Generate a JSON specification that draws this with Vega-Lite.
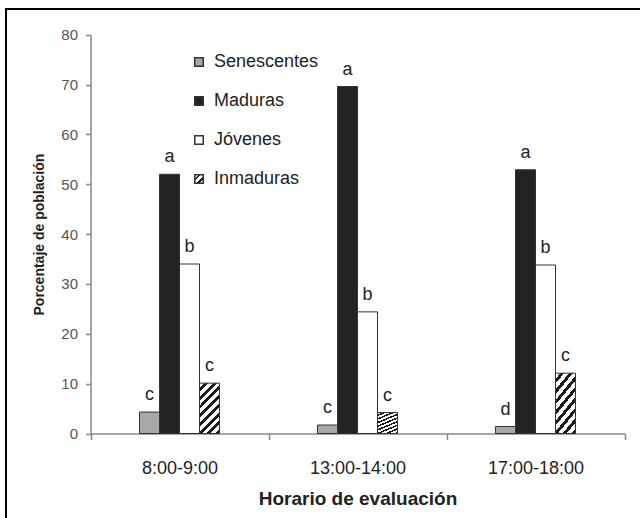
{
  "$schema": "https://vega.github.io/schema/vega-lite/v6.json",
  "width": 634,
  "height": 509,
  "autosize": {"type": "none"},
  "padding": {"left": 6, "top": 9, "right": 0, "bottom": 0},
  "background": "white",
  "config": {
    "view": {"stroke": "#000000", "strokeWidth": 2, "strokeDash": [634, 1143, 509]},
    "font": "Liberation Sans"
  },
  "data": {
    "values": [
      {"horario": "8:00-9:00", "tipo": "Senescentes", "porcentaje": 4.3, "letra": "c"},
      {"horario": "8:00-9:00", "tipo": "Maduras", "porcentaje": 52.0, "letra": "a"},
      {"horario": "8:00-9:00", "tipo": "Jóvenes", "porcentaje": 34.0, "letra": "b"},
      {"horario": "8:00-9:00", "tipo": "Inmaduras", "porcentaje": 10.1, "letra": "c"},
      {"horario": "13:00-14:00", "tipo": "Senescentes", "porcentaje": 1.7, "letra": "c"},
      {"horario": "13:00-14:00", "tipo": "Maduras", "porcentaje": 69.6, "letra": "a"},
      {"horario": "13:00-14:00", "tipo": "Jóvenes", "porcentaje": 24.4, "letra": "b"},
      {"horario": "13:00-14:00", "tipo": "Inmaduras", "porcentaje": 4.2, "letra": "c"},
      {"horario": "17:00-18:00", "tipo": "Senescentes", "porcentaje": 1.4, "letra": "d"},
      {"horario": "17:00-18:00", "tipo": "Maduras", "porcentaje": 52.9, "letra": "a"},
      {"horario": "17:00-18:00", "tipo": "Jóvenes", "porcentaje": 33.8, "letra": "b"},
      {"horario": "17:00-18:00", "tipo": "Inmaduras", "porcentaje": 12.1, "letra": "c"}
    ]
  },
  "encoding": {
    "x": {
      "field": "horario",
      "type": "nominal",
      "sort": ["8:00-9:00", "13:00-14:00", "17:00-18:00"],
      "scale": {"range": [84.5, 618.5], "paddingInner": 0, "paddingOuter": 0},
      "axis": {
        "title": "Horario de evaluación",
        "offset": -84.5,
        "domainColor": "#888888",
        "domainWidth": 1.5,
        "tickColor": "#888888",
        "tickWidth": 1.5,
        "tickBand": "extent",
        "tickSize": 6,
        "labelAngle": 0,
        "labelFontSize": 18,
        "labelColor": "#222222",
        "labelPadding": 20,
        "titleFontSize": 19,
        "titleFontWeight": "bold",
        "titleColor": "#222222",
        "titlePadding": 12
      }
    },
    "xOffset": {
      "field": "tipo",
      "type": "nominal",
      "sort": ["Senescentes", "Maduras", "Jóvenes", "Inmaduras"],
      "scale": {"range": [49, 129], "paddingInner": 0, "paddingOuter": 0}
    },
    "y": {
      "field": "porcentaje",
      "type": "quantitative",
      "scale": {"domain": [0, 80], "range": [424.5, 25.7], "nice": false},
      "axis": {
        "title": "Porcentaje de población",
        "offset": -84.5,
        "values": [0, 10, 20, 30, 40, 50, 60, 70, 80],
        "grid": false,
        "domainColor": "#888888",
        "domainWidth": 1.5,
        "tickColor": "#888888",
        "tickWidth": 1.5,
        "tickSize": 5,
        "labelFontSize": 15,
        "labelColor": "#555555",
        "labelPadding": 8,
        "titleFontSize": 14,
        "titleFontWeight": "bold",
        "titleColor": "#222222",
        "titlePadding": 14
      }
    }
  },
  "layer": [
    {
      "mark": {"type": "bar", "stroke": "#333333", "strokeWidth": 1},
      "encoding": {
        "fill": {
          "condition": {
            "test": "datum.tipo === 'Inmaduras'",
            "value": {
              "gradient": "linear",
              "x1": 0, "y1": 0, "x2": 0.48, "y2": 1.2,
              "stops": [
                {"offset": 0, "color": "#ffffff"}, {"offset": 0.069, "color": "#ffffff"}, {"offset": 0.069, "color": "#1a1a1a"}, {"offset": 0.125, "color": "#1a1a1a"},
                {"offset": 0.125, "color": "#ffffff"}, {"offset": 0.194, "color": "#ffffff"}, {"offset": 0.194, "color": "#1a1a1a"}, {"offset": 0.25, "color": "#1a1a1a"},
                {"offset": 0.25, "color": "#ffffff"}, {"offset": 0.319, "color": "#ffffff"}, {"offset": 0.319, "color": "#1a1a1a"}, {"offset": 0.375, "color": "#1a1a1a"},
                {"offset": 0.375, "color": "#ffffff"}, {"offset": 0.444, "color": "#ffffff"}, {"offset": 0.444, "color": "#1a1a1a"}, {"offset": 0.5, "color": "#1a1a1a"},
                {"offset": 0.5, "color": "#ffffff"}, {"offset": 0.569, "color": "#ffffff"}, {"offset": 0.569, "color": "#1a1a1a"}, {"offset": 0.625, "color": "#1a1a1a"},
                {"offset": 0.625, "color": "#ffffff"}, {"offset": 0.694, "color": "#ffffff"}, {"offset": 0.694, "color": "#1a1a1a"}, {"offset": 0.75, "color": "#1a1a1a"},
                {"offset": 0.75, "color": "#ffffff"}, {"offset": 0.819, "color": "#ffffff"}, {"offset": 0.819, "color": "#1a1a1a"}, {"offset": 0.875, "color": "#1a1a1a"},
                {"offset": 0.875, "color": "#ffffff"}, {"offset": 0.944, "color": "#ffffff"}, {"offset": 0.944, "color": "#1a1a1a"}, {"offset": 1, "color": "#1a1a1a"}
              ]
            }
          },
          "field": "tipo",
          "type": "nominal",
          "scale": {
            "domain": ["Senescentes", "Maduras", "Jóvenes", "Inmaduras"],
            "range": [
              "#a8a8a8",
              "#232323",
              "#ffffff",
              {"expr": "{gradient: 'linear', x1: 0, y1: 0, x2: 1, y2: 1, stops: [{offset: 0, color: '#ffffff'}, {offset: 0.22, color: '#ffffff'}, {offset: 0.22, color: '#1a1a1a'}, {offset: 0.36, color: '#1a1a1a'}, {offset: 0.36, color: '#ffffff'}, {offset: 0.6, color: '#ffffff'}, {offset: 0.6, color: '#1a1a1a'}, {offset: 0.74, color: '#1a1a1a'}, {offset: 0.74, color: '#ffffff'}, {offset: 1, color: '#ffffff'}]}"}
            ]
          },
          "legend": {
            "title": null,
            "orient": "none",
            "legendX": 184,
            "legendY": 44,
            "padding": 0,
            "rowPadding": 21,
            "symbolType": "square",
            "symbolSize": 72,
            "labelFontSize": 18,
            "labelColor": "#222222",
            "labelOffset": 6,
            "encode": {
              "symbols": {
                "update": {
                  "stroke": {"value": "#333333"},
                  "strokeWidth": {"value": 1}
                }
              }
            }
          }
        }
      }
    },
    {
      "mark": {"type": "text", "baseline": "alphabetic", "align": "center", "dy": -12, "fontSize": 18, "color": "#222222"},
      "encoding": {
        "text": {"field": "letra", "type": "nominal"}
      }
    }
  ]
}
